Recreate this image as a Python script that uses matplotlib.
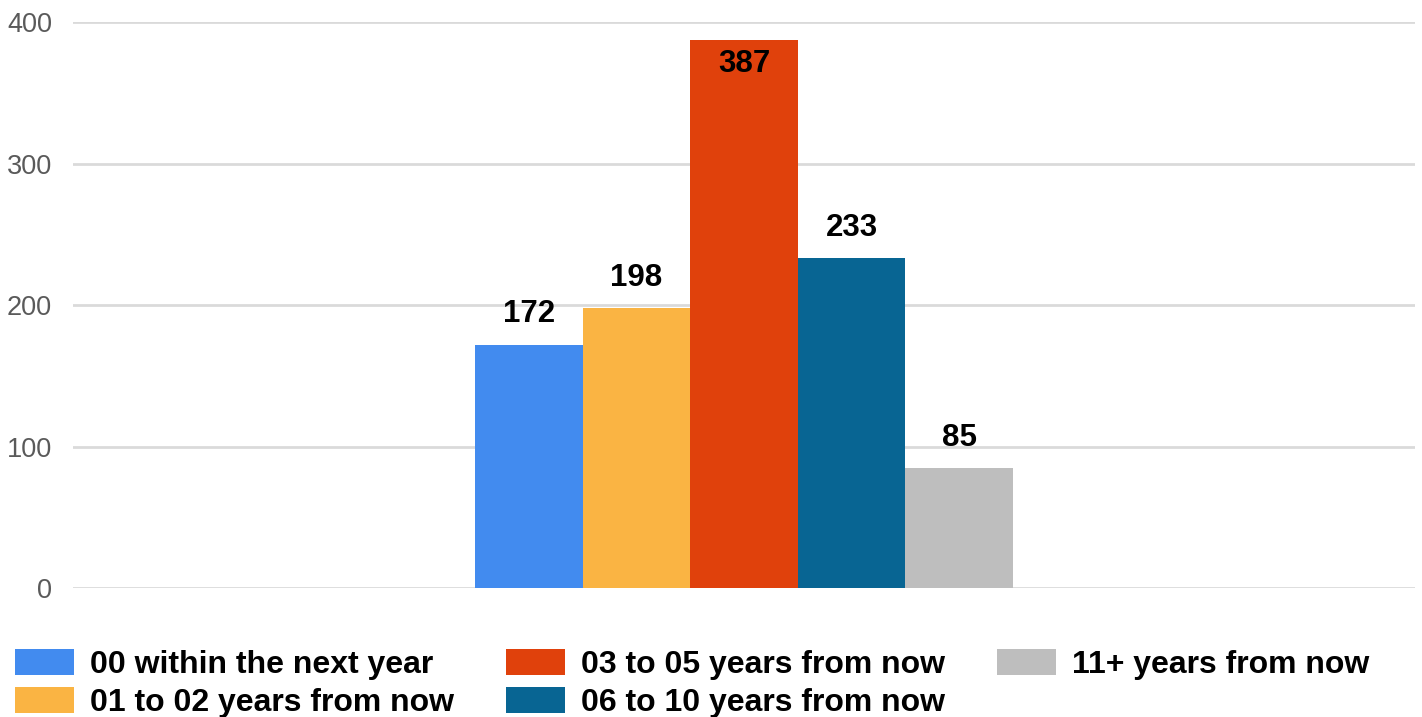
import matplotlib
matplotlib.use("Agg")
import matplotlib.pyplot as plt

categories = ['00 within the next year', '01 to 02 years from now',
              '03 to 05 years from now', '06 to 10 years from now',
              '11+ years from now']
counts = [172, 198, 387, 233, 85]
colors = ['#428bef', '#fab443', '#e0410c', '#086593', '#bebebe']
y_ticks = [0, 100, 200, 300, 400]

plt.rcParams['font.family'] = ['Liberation Sans', 'DejaVu Sans']

fig = plt.figure(figsize=(14.22, 7.17), dpi=100)
ax = fig.add_axes([0.0513, 0.1799, 0.9438, 0.7894])

x = list(range(len(counts)))
bars = ax.bar(x, counts, width=1.0, color=colors, label=categories, zorder=3)

for xi, v in zip(x, counts):
    # the tallest bar gets its label inside, the others above
    if v > 360:
        off = -23
    else:
        off = 16
    ax.annotate(str(v), (xi, v), xytext=(0, off), textcoords='offset points',
                ha='center', va='baseline', fontsize=22.5, fontweight='bold',
                color='black', zorder=4)

ax.set_xlim(-4.236, 8.236)
ax.set_ylim(0, 400)
ax.set_yticks(y_ticks)
ax.set_xticks([])
ax.tick_params(axis='y', length=0, pad=15, labelsize=19.5, labelcolor='#5a5a5a')
ax.grid(axis='y', color='#dadada', linewidth=2, zorder=0)
ax.set_axisbelow(True)
for s in ax.spines.values():
    s.set_visible(False)

fig.legend(handles=bars.patches, labels=categories, ncol=3,
           loc='upper left', bbox_to_anchor=(0.0035, 0.108),
           frameon=False, prop={'weight': 'bold', 'size': 23},
           handlelength=1.875, handleheight=0.875, handletextpad=0.5,
           columnspacing=1.6, labelspacing=0.2, borderaxespad=0.0,
           borderpad=0.3)

fig.savefig('out.png', dpi=100, facecolor='white')
